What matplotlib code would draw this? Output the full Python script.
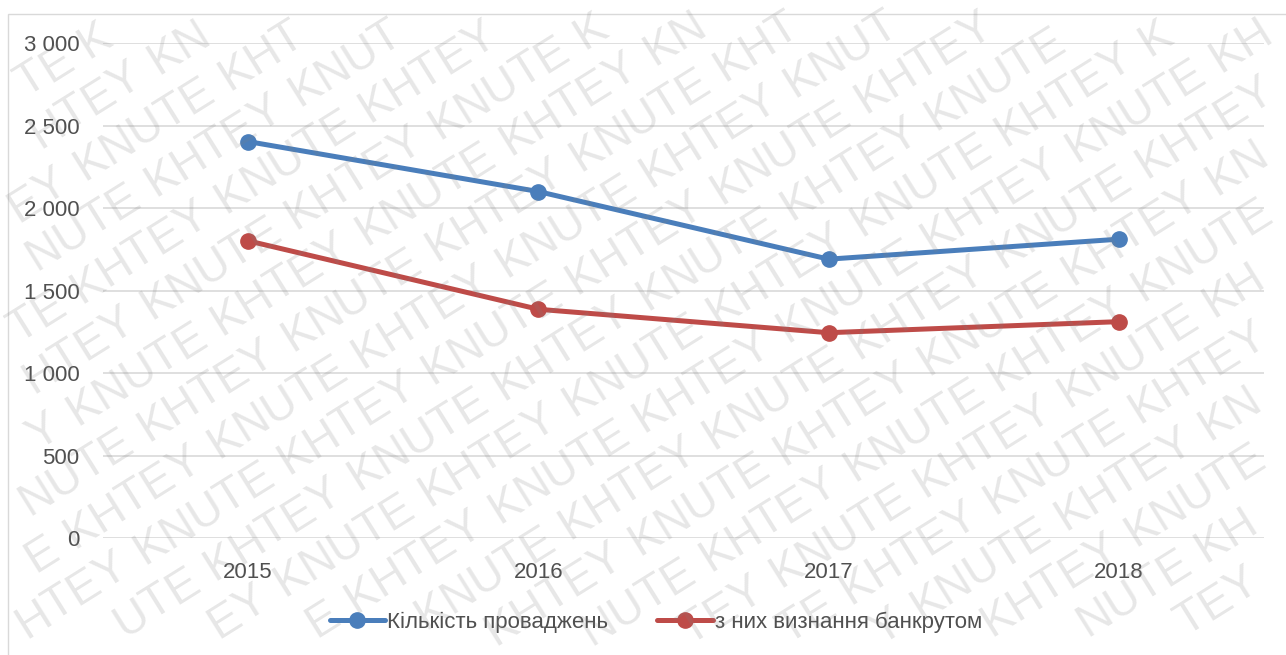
import numpy as np
import matplotlib
matplotlib.use("Agg")
import matplotlib.pyplot as plt
from matplotlib.patches import Rectangle
from matplotlib.font_manager import FontProperties

plt.rcParams['font.family'] = ['Liberation Sans Narrow', 'Liberation Sans', 'DejaVu Sans']

years = ['2015', '2016', '2017', '2018']
proceedings = [2404, 2101, 1691, 1812]
bankrupt = [1802, 1387, 1245, 1312]
series_labels = ['Кількість проваджень', 'з них визнання банкрутом']
y_ticks = [0, 500, 1000, 1500, 2000, 2500, 3000]
y_tick_labels = ['0', '500', '1 000', '1 500', '2 000', '2 500', '3 000']
watermark_words = ['KHTEY', 'KNUTE']

W, H = 1286, 655
fig = plt.figure(figsize=(W / 100, H / 100), dpi=100)
fig.patch.set_facecolor('white')

# chart border
fig.patches.append(Rectangle((8 / W, -0.5), 2.0, 0.5 + (1 - 14 / H), transform=fig.transFigure,
                             fill=False, edgecolor='#d9d9d9', linewidth=1.0))

ax = fig.add_axes([103 / W, 1 - 538 / H, (1264 - 103) / W, (538 - 43.3) / H])
x = np.arange(len(years))
blue = '#4A7EBB'
red = '#BE4B48'
ax.plot(x, proceedings, color=blue, lw=3.6, marker='o', ms=11, label=series_labels[0],
        solid_capstyle='round', zorder=3)
ax.plot(x, bankrupt, color=red, lw=3.6, marker='o', ms=11, label=series_labels[1],
        solid_capstyle='round', zorder=3)

ax.set_xlim(-0.5, len(years) - 0.5)
ax.set_ylim(0, 3000)
ax.set_yticks(y_ticks)
ax.set_yticklabels(y_tick_labels)
ax.set_xticks(x)
ax.set_xticklabels(years)
ax.grid(axis='y', color='#d9d9d9', lw=1.2)
ax.set_axisbelow(True)
for s in ax.spines.values():
    s.set_visible(False)
ax.tick_params(axis='both', length=0, labelsize=16, colors='#505050')
ax.tick_params(axis='y', pad=17)
ax.tick_params(axis='x', pad=17)
ax.set_facecolor('none')

leg = fig.legend(loc='center', bbox_to_anchor=(656 / W, 1 - 622 / H), ncol=2, frameon=False,
                 fontsize=16, handlelength=2.5, handletextpad=0.1, columnspacing=2.2,
                 labelcolor='#505050')

# watermark: letters placed along diagonal rows of "KHTEY KNUTE ..."
fig.canvas.draw()
r = fig.canvas.get_renderer()
deg = 32
ang = np.deg2rad(deg)
u = np.array([np.cos(ang), np.sin(ang)])
n = np.array([-np.sin(ang), np.cos(ang)])
wm_size = 33
fp = FontProperties(family='Liberation Sans', size=wm_size)
offsets = {}
for w in watermark_words:
    offs = []
    for i in range(len(w)):
        if i == 0:
            offs.append(0.0)
        else:
            wd, _, _ = r.get_text_width_height_descent(w[:i], fp, ismath=False)
            # correct for first-letter side bearing approx by measuring full prefix
            offs.append(wd)
    offsets[w] = offs
step = 170.0
row_gap = 51.0
row_shift = -51.0
wm_texts = []
for k in range(-30, 40):
    for j in range(-15, 20):
        p0 = k * row_gap * n + (k * row_shift + j * step) * u
        if p0[0] < -400 or p0[0] > W + 50 or p0[1] < -400 or p0[1] > H + 50:
            continue
        word = watermark_words[(j + k) % 2]
        for ch, off in zip(word, offsets[word]):
            p = p0 + off * u
            if p[0] < -60 or p[0] > W + 5 or p[1] < -60 or p[1] > H + 5:
                continue
            t = fig.text(p[0] / W, p[1] / H, ch, rotation=deg, rotation_mode='anchor',
                         fontproperties=fp, color='#808080', alpha=0.19,
                         ha='left', va='baseline', zorder=10)
            wm_texts.append(t)

for t in wm_texts:
    bb = t.get_window_extent(r)
    if bb.x0 < 0 or bb.y0 < 0 or bb.x1 > W or bb.y1 > H:
        t.remove()

fig.savefig('out.png', dpi=100, facecolor='white')
